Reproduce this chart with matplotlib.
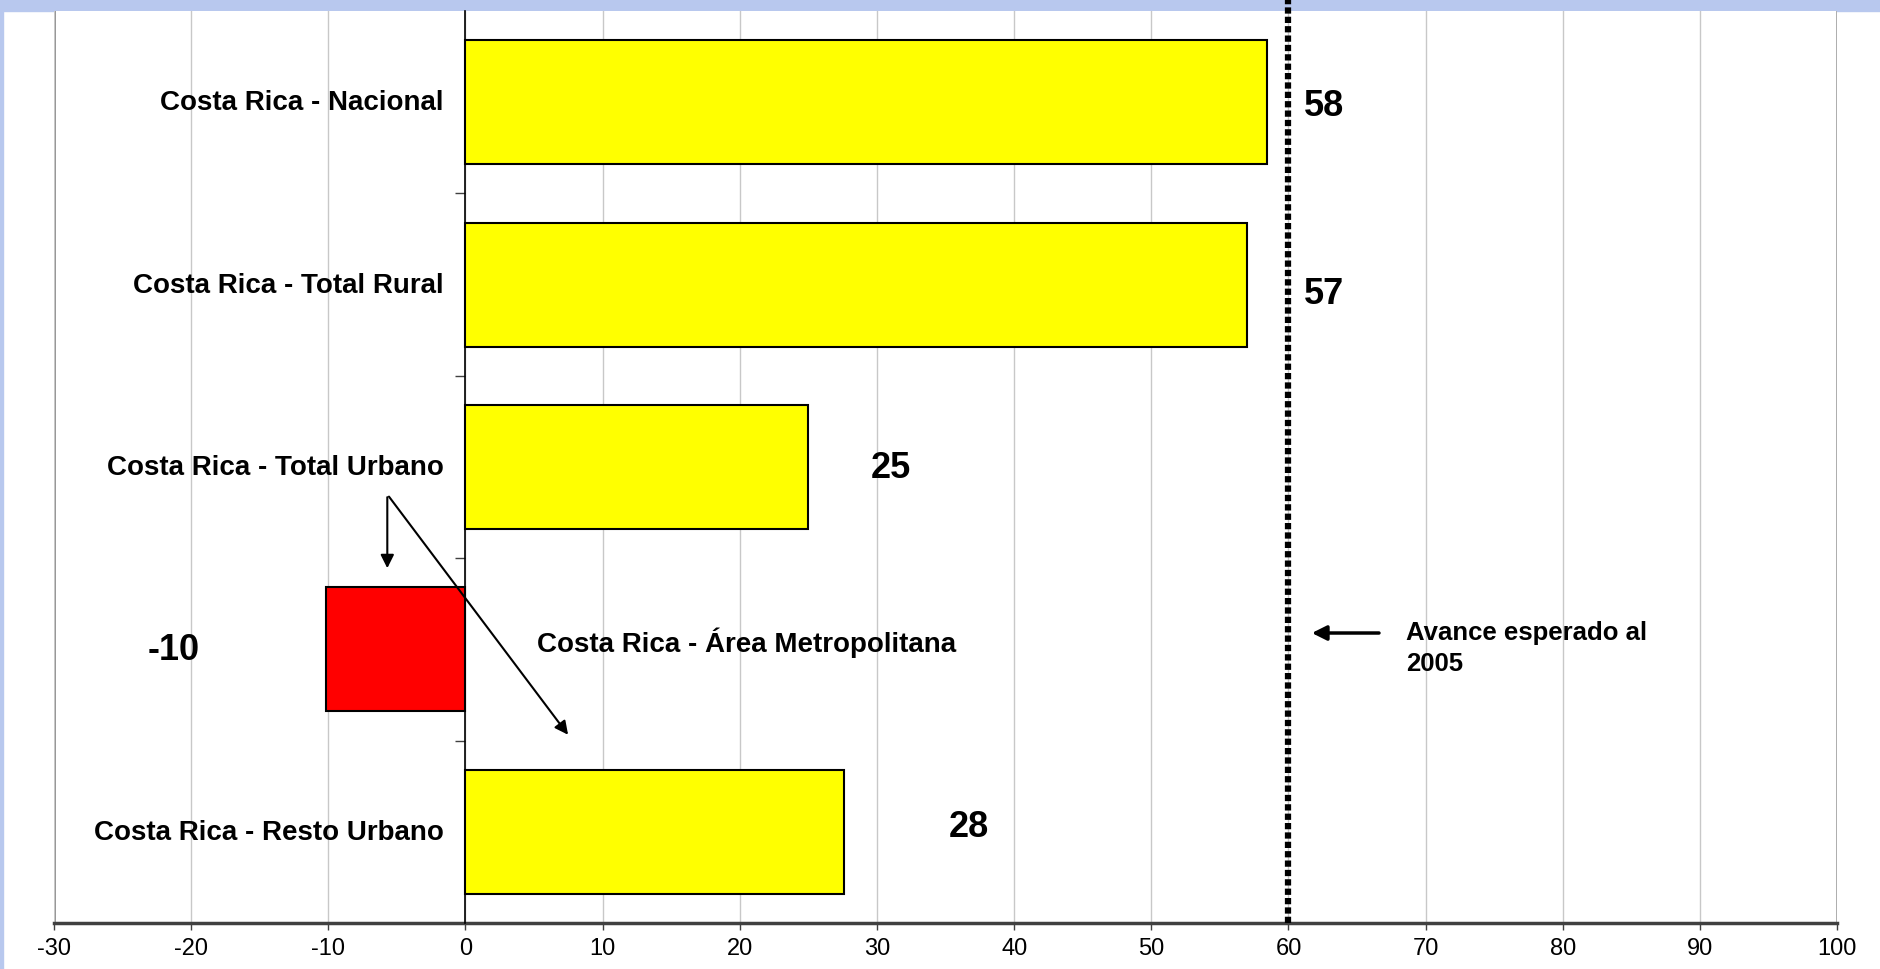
import matplotlib
matplotlib.use('Agg')
import matplotlib.pyplot as plt
from matplotlib.patches import Rectangle

plt.rcParams['font.family'] = ['Liberation Sans', 'DejaVu Sans']
plt.rcParams['axes.unicode_minus'] = False

# data
categories = ['Costa Rica - Nacional', 'Costa Rica - Total Rural', 'Costa Rica - Total Urbano',
              'Costa Rica - Área Metropolitana', 'Costa Rica - Resto Urbano']
values = [58.4, 57.0, 25.0, -10.2, 27.6]
bar_colors = ['#FFFF00', '#FFFF00', '#FFFF00', '#FF0000', '#FFFF00']
label_x = [62.6, 62.6, 31.0, -21.3, 36.7]   # where the value labels sit
label_y = [0.02, 1.05, 2.0, 3.0, 3.97]
expected = 60
x_ticks = list(range(-30, 101, 10))


def main():
	fig = plt.figure(figsize=(18.81, 9.70), dpi=100)
	fig.patches.append(Rectangle((0, 0.9876), 1, 0.0124, transform=fig.transFigure,
	                             color='#B8C8EE', zorder=-1))
	fig.patches.append(Rectangle((0, 0), 0.0018, 1, transform=fig.transFigure,
	                             color='#B8C8EE', zorder=-1))
	ax = fig.add_axes([0.0287, 0.0474, 0.948, 0.9402])

	y = list(range(len(categories)))
	ax.barh(y, values, height=0.68, color=bar_colors, edgecolor='black', linewidth=1.5, zorder=3)

	ax.set_xlim(-30, 100)
	ax.set_ylim(4.5, -0.5)
	ax.set_xticks(x_ticks)
	ax.set_xticklabels([str(t) for t in x_ticks], fontsize=17)
	ax.tick_params(axis='x', length=5, width=1, color='#404040', pad=5)
	ax.grid(axis='x', color='#C8C8C8', linewidth=1, zorder=0)
	ax.axvline(-30, color='#808080', linewidth=2, zorder=1)
	ax.axvline(100, color='#A0A0A0', linewidth=2, zorder=1)

	# y axis sits at zero, ticks between categories
	ax.spines['left'].set_position(('data', 0))
	ax.spines['left'].set_linewidth(1.2)
	ax.spines['left'].set_zorder(4)
	ax.set_yticks([0.5, 1.5, 2.5, 3.5])
	ax.set_yticklabels([])
	ax.tick_params(axis='y', length=7, width=1, color='#404040')
	ax.spines['right'].set_visible(False)
	ax.spines['top'].set_visible(False)
	ax.spines['bottom'].set_color('#404040')
	ax.spines['bottom'].set_linewidth(2.5)

	# category names
	for i, name in enumerate(categories):
		if values[i] < 0:
			ax.text(5.2, i - 0.04, name, ha='left', va='center', fontsize=20, fontweight='bold')
		else:
			ax.text(-1.6, i, name, ha='right', va='center', fontsize=20, fontweight='bold')

	# value labels
	for i, v in enumerate(values):
		ax.text(label_x[i], label_y[i], str(round(v)), ha='center', va='center',
		        fontsize=26, fontweight='bold')

	# expected progress line
	ax.axvline(expected, ymin=0, ymax=1.013, color='black', linewidth=4.5,
	           linestyle=(0, (1, 0.5)), clip_on=False, zorder=5)
	ax.annotate('', xy=(61.5, 2.91), xytext=(66.8, 2.91),
	            arrowprops=dict(arrowstyle='-|>', lw=2.5, color='black', mutation_scale=22))
	ax.text(68.6, 2.99, 'Avance esperado al\n2005', ha='left', va='center',
	        fontsize=18.5, fontweight='bold', linespacing=1.4)

	# arrows from the Total Urbano label
	ax.annotate('', xy=(-5.7, 2.57), xytext=(-5.7, 2.15),
	            arrowprops=dict(arrowstyle='-|>', lw=1.5, color='black', mutation_scale=20))
	ax.annotate('', xy=(7.6, 3.48), xytext=(-5.7, 2.15),
	            arrowprops=dict(arrowstyle='-|>', lw=1.5, color='black', mutation_scale=20))

	plt.savefig('out.png', dpi=100)
	return


if __name__ == '__main__':
	main()
